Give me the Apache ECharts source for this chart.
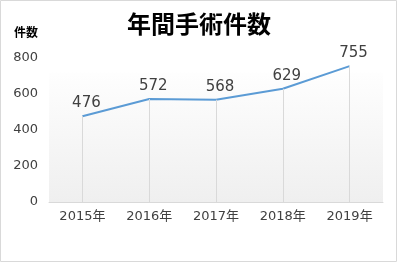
<!DOCTYPE html>
<html><head><meta charset="utf-8">
<script src="https://cdn.jsdelivr.net/npm/echarts@6/dist/echarts.min.js"></script>
<style>html,body{margin:0;padding:0;background:#fff}#c{width:398px;height:263px}</style>
</head><body><div id="c"></div>
<script>
const categories = ['2015年','2016年','2017年','2018年','2019年'];
const counts = [476, 572, 568, 629, 755];
const yTicks = [0, 200, 400, 600, 800];
const FONT = '"DejaVu Sans","Noto Sans CJK JP",sans-serif';
const chart = echarts.init(document.getElementById('c'), null, {renderer:'canvas'});
chart.setOption({
  animation:false,
  title:{text:'年間手術件数', left:'center', top:7,
    textStyle:{fontSize:24, fontWeight:'bold', color:'#000', fontFamily:'"Noto Sans CJK JP",sans-serif'}},
  graphic:[{type:'rect', shape:{x:0.5,y:0.5,width:396,height:261}, style:{fill:null, stroke:'#d9d9d9', lineWidth:1}, z:-1}],
  grid:{left:49, right:15, top:58, bottom:61, show:true, borderWidth:0,
    backgroundColor:new echarts.graphic.LinearGradient(0,0,0,1,[
      {offset:0,color:'#ffffff'},{offset:0.1,color:'#ffffff'},{offset:0.11,color:'#fefefe'},{offset:1,color:'#efefef'}])},
  xAxis:{type:'category', data:categories, boundaryGap:true,
    axisLine:{lineStyle:{color:'#d9d9d9', width:1}}, axisTick:{show:false},
    axisLabel:{color:'#404040', fontSize:13, margin:8, fontFamily:FONT}},
  yAxis:{type:'value', min:yTicks[0], max:yTicks[yTicks.length-1], interval:200,
    name:'件数', nameLocation:'end', nameGap:20,
    nameTextStyle:{color:'#000', fontSize:12, fontWeight:'bold', align:'right', padding:[0,11,0,0], fontFamily:'"Noto Sans CJK JP",sans-serif'},
    splitLine:{show:false}, axisLine:{show:false}, axisTick:{show:false},
    axisLabel:{color:'#404040', fontSize:13, margin:11, fontFamily:FONT}},
  series:[{type:'line', data:counts, symbol:'circle', symbolSize:1, showSymbol:true, z:3,
    itemStyle:{color:'rgba(0,0,0,0)', borderWidth:0},
    lineStyle:{color:'#5b9bd5', width:2},
    label:{show:true, position:'top', distance:5, offset:[4,0], color:'#404040', fontSize:15, fontFamily:FONT},
    markLine:{silent:true, symbol:'none', label:{show:false},
      lineStyle:{color:'#d9d9d9', width:1, type:'solid'},
      data: counts.map((v,i)=>[{coord:[i,0]},{coord:[i,v]}])}
  }]
});
</script></body></html>
